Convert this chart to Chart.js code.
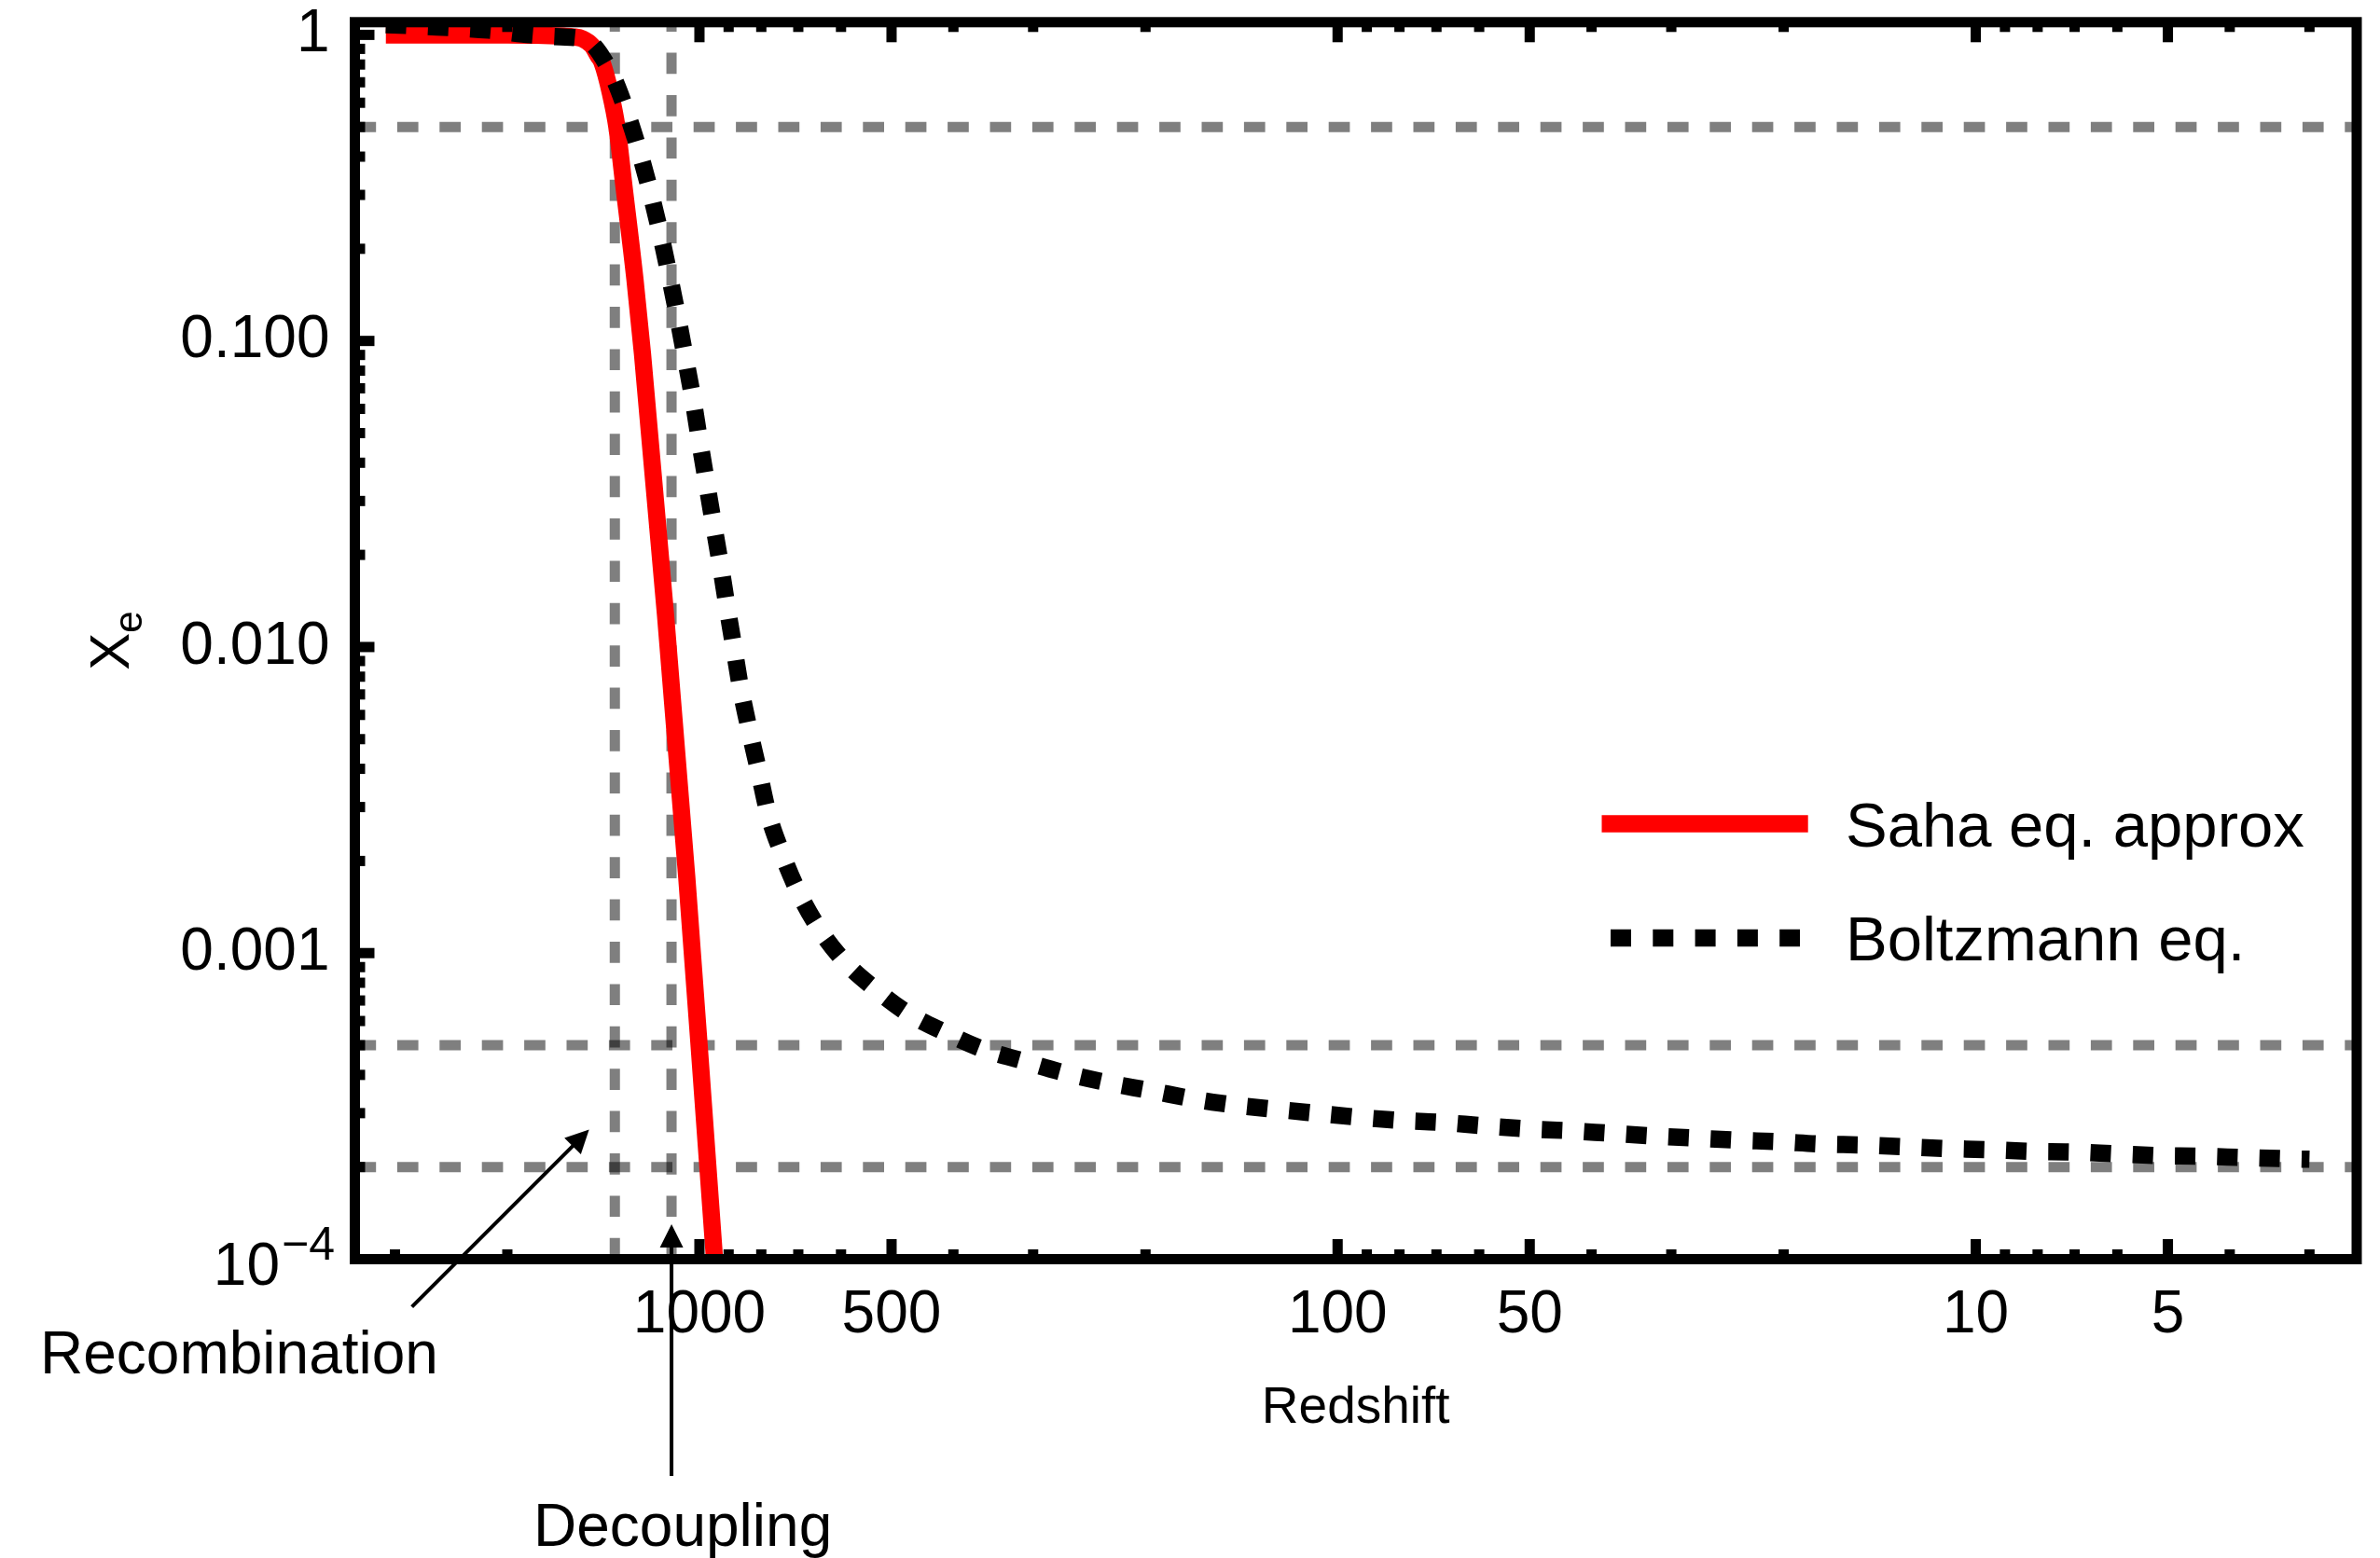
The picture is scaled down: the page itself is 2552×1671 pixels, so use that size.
<!DOCTYPE html>
<html>
<head>
<meta charset="utf-8">
<title>Ionization fraction vs redshift</title>
<script src="https://cdn.jsdelivr.net/npm/chart.js@4.4.1/dist/chart.umd.min.js"></script>
<style>
  html, body { margin: 0; padding: 0; background: #ffffff; }
  #wrap { width: 2552px; height: 1671px; }
  canvas { display: block; }
</style>
</head>
<body>
<div id="wrap"><canvas id="c" width="2552" height="1671"></canvas></div>
<script>
// ---- Saha equation approximation: redshift z and ionization fraction X_e ----
const sahaZ  = [3100, 2500, 2000, 1800, 1631, 1577, 1525, 1474, 1441, 1422, 1379, 1347, 1313, 1262, 1228, 1130, 1047, 987, 947];
const sahaXe = [1.0, 1.0, 1.0, 0.998, 0.990, 0.985, 0.971, 0.923, 0.854, 0.815, 0.645, 0.5, 0.320, 0.159, 0.0905, 0.0127, 0.00178, 3.31e-4, 1.0e-4];

// ---- Boltzmann equation solution ----
const boltzZ  = [3100, 2880, 2580, 2140, 1840, 1650, 1508, 1379, 1303, 1243, 1194, 1152, 1116, 1083, 1053, 1024, 1000, 975, 951, 927, 905, 883, 861, 835, 807, 780, 742, 700, 649, 592, 534, 472, 414, 361, 311, 269, 232, 199, 157, 112, 80.2, 69.2, 59.4, 51.1, 43.7, 37.6, 32.3, 27.8, 23.9, 20.4, 17.6, 15.1, 13.0, 11.2, 9.6, 8.2, 7.06, 6.07, 5.2, 4.47, 3.84, 3.3, 3.0];
const boltzXe = [1.08, 1.073, 1.061, 1.036, 1.0, 0.985, 0.964, 0.760, 0.567, 0.417, 0.307, 0.2253, 0.1655, 0.1213, 0.0888, 0.0647, 0.0475, 0.0346, 0.0254, 0.01855, 0.01353, 0.00994, 0.00725, 0.00534, 0.00391, 0.00285, 0.00211, 0.001586, 0.001198, 0.000937, 0.000772, 0.000637, 0.000553, 0.000487, 0.000444, 0.000407, 0.000379, 0.000357, 0.000326, 0.000302, 0.000284, 0.000280, 0.000273, 0.000267, 0.000263, 0.000258, 0.000253, 0.000249, 0.000245, 0.000242, 0.000238, 0.000236, 0.000233, 0.000230, 0.000228, 0.000225, 0.000224, 0.000221, 0.000218, 0.000217, 0.000215, 0.000213, 0.000212];

// ---- Marker lines: recombination / decoupling redshifts and X_e levels ----
const recombinationZ = 1357;
const decouplingZ = 1106;
const levelXe = [0.5, 5e-4, 2e-4];

// ---- Axis ranges and labelled ticks ----
const zMin = 2.53, zMax = 3467;
const xeMin = 1e-4, xeMax = 1.1;
const xTickValues = [1000, 500, 100, 50, 10, 5];
const xTickLabels = ['1000', '500', '100', '50', '10', '5'];
const yTickValues = [1, 0.1, 0.01, 0.001, 0.0001];
const yTickLabels = ['1', '0.100', '0.010', '0.001', ''];   // 10^-4 is typeset with a superscript below

const seriesNames = ['Boltzmann eq.', 'Saha eq. approx'];
const annotationText = ['Recombination', 'Decoupling'];
const annotationZ  = [1489, decouplingZ];
const annotationXe = [2.65e-4, 1.3e-4];

const FONT = "'Liberation Sans', Arial, Helvetica, sans-serif";

function findIndexOf(list, v) {
  return list.findIndex(t => Math.abs(t - v) / t < 1e-6);
}

// every 1..9 x 10^k between lo and hi, flagged when it carries a label
function decadeTicks(lo, hi, majors) {
  const out = [];
  for (let k = Math.floor(Math.log10(lo)); k <= Math.ceil(Math.log10(hi)); k++) {
    for (let m = 1; m <= 9; m++) {
      const v = Number((m * Math.pow(10, k)).toPrecision(6));
      if (v >= lo && v <= hi) out.push({ value: v, lvl: findIndexOf(majors, v) >= 0 ? 1 : 0 });
    }
  }
  return out;
}

const toPoints = (xs, ys) => xs.map((x, i) => ({ x: x, y: ys[i] }));

const grayLine = {
  borderColor: 'rgba(0,0,0,0.5)',
  borderWidth: 11,
  borderDash: [22.7, 22.7],
  borderCapStyle: 'butt',
  pointRadius: 0,
  fill: false,
  tension: 0,
  order: 5
};

const datasets = [
  {
    label: seriesNames[0],
    data: toPoints(boltzZ, boltzXe),
    borderColor: '#000000',
    borderWidth: 18.5,
    borderDash: [22, 23.3],
    borderCapStyle: 'butt',
    cubicInterpolationMode: 'monotone',
    pointRadius: 0,
    fill: false,
    order: 0
  },
  {
    label: seriesNames[1],
    data: toPoints(sahaZ, sahaXe),
    borderColor: '#ff0000',
    borderWidth: 18.5,
    borderCapStyle: 'butt',
    cubicInterpolationMode: 'monotone',
    pointRadius: 0,
    fill: false,
    order: 1
  }
];
levelXe.forEach(v => datasets.push(Object.assign({ label: '', data: [{ x: zMax, y: v }, { x: zMin, y: v }] }, grayLine)));
[recombinationZ, decouplingZ].forEach(z => datasets.push(Object.assign({ label: '', data: [{ x: z, y: xeMin }, { x: z, y: xeMax }] }, grayLine)));

// frame, inward ticks, y-axis title, 10^-4 label, legend and annotations
const decorations = {
  id: 'decorations',
  afterDatasetsDraw(chart) {
    const { ctx, chartArea: a, scales: { x, y } } = chart;
    ctx.save();
    ctx.strokeStyle = '#000';
    ctx.fillStyle = '#000';
    ctx.lineCap = 'butt';
    ctx.setLineDash([]);
    ctx.lineWidth = 11;
    const seg = (x0, y0, x1, y1) => { ctx.beginPath(); ctx.moveTo(x0, y0); ctx.lineTo(x1, y1); ctx.stroke(); };
    x.ticks.forEach(t => {
      const px = x.getPixelForValue(t.value);
      const len = t.lvl ? 21.5 : 10.5;
      seg(px, a.bottom, px, a.bottom - len);
      seg(px, a.top, px, a.top + len);
    });
    y.ticks.forEach(t => {
      const py = y.getPixelForValue(t.value);
      const len = t.lvl ? 21 : 11;
      seg(a.left, py, a.left + len, py);
    });
    ctx.strokeRect(a.left, a.top, a.right - a.left, a.bottom - a.top);
    ctx.restore();
  },
  afterDraw(chart) {
    const { ctx, chartArea: a, scales: { x, y } } = chart;
    ctx.save();
    ctx.fillStyle = '#000';
    ctx.strokeStyle = '#000';

    // 10^-4 tick label
    const p4 = y.getPixelForValue(yTickValues[4]);
    ctx.textBaseline = 'alphabetic';
    ctx.textAlign = 'right';
    ctx.font = '50px ' + FONT;
    ctx.fillText('\u22124', 359, p4);
    const supW = ctx.measureText('\u22124').width;
    ctx.font = '64px ' + FONT;
    ctx.fillText('10', 359 - supW - 2, p4 + 27.5);

    // y-axis title X_e
    ctx.save();
    const cy = (a.top + a.bottom) / 2;
    ctx.font = '60px ' + FONT;
    const wX = ctx.measureText('X').width;
    ctx.font = '42px ' + FONT;
    const wE = ctx.measureText('e').width;
    ctx.translate(138, cy + (wX + wE) / 2);
    ctx.rotate(-Math.PI / 2);
    ctx.textAlign = 'left';
    ctx.font = '60px ' + FONT;
    ctx.fillText('X', 0, 0);
    ctx.font = '42px ' + FONT;
    ctx.fillText('e', wX, 14);
    ctx.restore();

    // legend
    const ds = chart.data.datasets;
    const rows = [{ d: ds[1], y0: 883.5, x0: 1717.5, x1: 1938.7, ty: 908 },
                  { d: ds[0], y0: 1006, x0: 1727, x1: 1930, ty: 1030 }];
    rows.forEach(r => {
      ctx.save();
      ctx.strokeStyle = r.d.borderColor;
      ctx.lineWidth = r.d.borderWidth;
      ctx.lineCap = 'butt';
      ctx.setLineDash(r.d.borderDash || []);
      ctx.beginPath(); ctx.moveTo(r.x0, r.y0); ctx.lineTo(r.x1, r.y0); ctx.stroke();
      ctx.restore();
      ctx.font = '67px ' + FONT;
      ctx.textAlign = 'left';
      ctx.textBaseline = 'alphabetic';
      ctx.fillText(r.d.label, 1979, r.ty);
    });

    // annotation arrows
    const arrow = (x0, y0, x1, y1) => {
      const ang = Math.atan2(y1 - y0, x1 - x0);
      const hl = 25, hw = 12.5;
      const bx = x1 - hl * Math.cos(ang), by = y1 - hl * Math.sin(ang);
      ctx.lineWidth = 4;
      ctx.beginPath(); ctx.moveTo(x0, y0); ctx.lineTo(bx + 2 * Math.cos(ang), by + 2 * Math.sin(ang)); ctx.stroke();
      ctx.beginPath();
      ctx.moveTo(x1, y1);
      ctx.lineTo(bx + hw * Math.sin(ang), by - hw * Math.cos(ang));
      ctx.lineTo(bx - hw * Math.sin(ang), by + hw * Math.cos(ang));
      ctx.closePath();
      ctx.fill();
    };
    const rx = x.getPixelForValue(annotationZ[0]), ry = y.getPixelForValue(annotationXe[0]);
    arrow(rx - 190, ry + 190, rx, ry);
    const dx = x.getPixelForValue(annotationZ[1]), dy = y.getPixelForValue(annotationXe[1]);
    arrow(dx, 1583, dx, dy);

    ctx.font = '64px ' + FONT;
    ctx.textAlign = 'left';
    ctx.textBaseline = 'alphabetic';
    ctx.fillText(annotationText[0], 43, 1473);
    ctx.fillText(annotationText[1], 572, 1658);
    ctx.restore();
  }
};

Chart.defaults.font.family = FONT;
Chart.defaults.color = '#000';

new Chart(document.getElementById('c'), {
  type: 'line',
  data: { datasets: datasets },
  plugins: [decorations],
  options: {
    responsive: false,
    devicePixelRatio: 1,
    animation: false,
    events: [],
    layout: { padding: { left: 0, top: 23.8, right: 25, bottom: 0 } },
    plugins: { legend: { display: false }, tooltip: { enabled: false } },
    scales: {
      x: {
        type: 'logarithmic',
        position: 'bottom',
        reverse: true,
        min: zMin,
        max: zMax,
        bounds: 'data',
        grid: { display: false, drawTicks: false },
        border: { display: false },
        afterBuildTicks: s => { s.ticks = decadeTicks(zMin, zMax, xTickValues); },
        afterFit: s => { s.height = 320.5; s.paddingLeft = 0; s.paddingRight = 0; },
        ticks: {
          autoSkip: false,
          maxRotation: 0,
          minRotation: 0,
          padding: 22,
          font: { size: 64, family: FONT },
          color: '#000',
          callback: v => { const i = findIndexOf(xTickValues, v); return i >= 0 ? xTickLabels[i] : ''; }
        },
        title: {
          display: true,
          text: 'Redshift',
          color: '#000',
          font: { size: 55, family: FONT },
          padding: { top: 0, bottom: 127 }
        }
      },
      y: {
        type: 'logarithmic',
        position: 'left',
        min: xeMin,
        max: xeMax,
        bounds: 'data',
        grid: { display: false, drawTicks: false },
        border: { display: false },
        afterBuildTicks: s => { s.ticks = decadeTicks(xeMin, xeMax, yTickValues); },
        afterFit: s => { s.width = 380.5; s.paddingTop = 0; s.paddingBottom = 0; },
        ticks: {
          autoSkip: false,
          padding: 27,
          font: { size: 64, family: FONT },
          color: '#000',
          callback: v => { const i = findIndexOf(yTickValues, v); return i >= 0 ? yTickLabels[i] : ''; }
        }
      }
    }
  }
});
</script>
</body>
</html>
